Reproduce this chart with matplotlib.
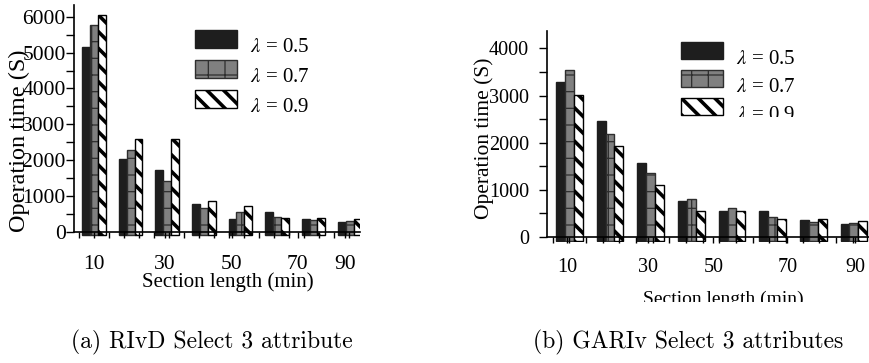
import matplotlib
matplotlib.use('Agg')
import matplotlib.pyplot as plt
from matplotlib.patches import Patch, Rectangle
from matplotlib.legend_handler import HandlerPatch
from matplotlib.ticker import MultipleLocator, FixedLocator
from matplotlib.transforms import Bbox, TransformedBbox
import numpy as np

# section lengths (min) of the 8 bar groups, and the x tick labels shown
sections = [10, 20, 30, 40, 50, 60, 70, 80]
tick_labels = ['10', '30', '50', '70', '90']
lambda_labels = [r'$\lambda$ = 0.5', r'$\lambda$ = 0.7', r'$\lambda$ = 0.9']

# (a) RIvD, operation time (s)
rivd_05 = [5150, 2020, 1720, 770, 350, 560, 350, 280]
rivd_07 = [5770, 2290, 1420, 650, 560, 420, 330, 310]
rivd_09 = [6060, 2580, 2580, 860, 720, 370, 370, 360]

# (b) GARIv, operation time (s)
gariv_05 = [3290, 2460, 1560, 750, 550, 550, 350, 270]
gariv_07 = [3550, 2190, 1360, 810, 620, 420, 310, 300]
gariv_09 = [3010, 1920, 1100, 550, 550, 370, 380, 330]

plt.rcParams['font.family'] = ['Liberation Serif', 'DejaVu Serif']
plt.rcParams['mathtext.fontset'] = 'stix'

W, H = 869, 363
fig = plt.figure(figsize=(W / 100, H / 100), dpi=100)

# bar styles: solid black, gray grid, white with black stripes
styles = [
    dict(facecolor='#1e1e1e', edgecolor='#1e1e1e', hatch=None, hlw=1.0),
    dict(facecolor='#808080', edgecolor='#2e2e2e', hatch='+', hlw=0.9),
    dict(facecolor='white', edgecolor='black', hatch='\\\\', hlw=2.6),
]


def px_axes(x0, x1, ytop, ybot):
    # axes rectangle given in pixels measured from the top-left corner
    return fig.add_axes([x0 / W, 1 - ybot / H, (x1 - x0) / W, (ybot - ytop) / H])


def styled_bar(ax, x, vals, base, width, st):
    with plt.rc_context({'hatch.linewidth': st['hlw']}):
        bars = ax.bar(x, np.array(vals) - base, width, bottom=base,
                      facecolor=st['facecolor'], edgecolor=st['edgecolor'],
                      hatch=st['hatch'], linewidth=1.0)
    for b in bars:
        if hasattr(b, 'set_hatch_linewidth'):
            b.set_hatch_linewidth(st['hlw'])
    return bars


def draw_panel(ax, series, ylim, base, xlim, label_pos, width, tick_fs, ylab_fs, xpad):
    x = np.arange(len(sections))
    for k, (vals, st) in enumerate(zip(series, styles)):
        styled_bar(ax, x + (k - 1) * width, vals, base, width, st)

    ax.set_xlim(*xlim)
    ax.set_ylim(*ylim)
    ax.spines['top'].set_visible(False)
    ax.spines['right'].set_visible(False)
    ax.spines['bottom'].set_position(('data', 0))
    ax.spines['left'].set_bounds(0, ylim[1])
    for s in ('left', 'bottom'):
        ax.spines[s].set_linewidth(1.2)

    ax.yaxis.set_major_locator(MultipleLocator(1000))
    ax.yaxis.set_minor_locator(MultipleLocator(500))
    ax.xaxis.set_major_locator(FixedLocator(label_pos))
    ax.set_xticklabels(tick_labels)
    ax.xaxis.set_minor_locator(MultipleLocator(0.41))
    ax.tick_params(axis='both', which='both', direction='out', width=1.0)
    ax.tick_params(axis='y', which='both', length=6, labelsize=tick_fs)
    ax.tick_params(axis='x', which='both', length=4, labelsize=tick_fs, pad=xpad)
    ax.set_ylabel('Operation time (S)', fontsize=ylab_fs, va='center')
    ax.set_xlabel('Section length (min)', fontsize=tick_fs - 0.5, va='center')


# ---------------- (a) RIvD ----------------
ax1 = px_axes(74, 360, 5, 237)
draw_panel(ax1, [rivd_05, rivd_07, rivd_09], (-150, 6330), -90,
           (-0.55, 7.27), [0, 1.94, 3.77, 5.57, 6.85], 0.215, 15.5, 17.5, 13)
ax1.tick_params(axis='y', pad=0)
ax1.yaxis.set_label_coords(19 / W, 1 - 141 / H, transform=fig.transFigure)
ax1.xaxis.set_label_coords(228 / W, 1 - 282 / H, transform=fig.transFigure)

# ---------------- (b) GARIv ----------------
ax2 = px_axes(547, 869, 31, 242.4)
draw_panel(ax2, [gariv_05, gariv_07, gariv_09], (-120, 4370), -90,
           (-0.55, 7.37), [-0.05, 1.94, 3.54, 5.36, 7.03], 0.22, 14.5, 15.5, 11)
ax2.tick_params(axis='y', pad=7)
ax2.yaxis.set_label_coords(484 / W, 1 - 138 / H, transform=fig.transFigure)
ax2.xaxis.set_label_coords(723 / W, 1 - 299 / H, transform=fig.transFigure)
# the lower edge of the right panel is cut off in the original
crop = TransformedBbox(Bbox([[0, 1 - 302 / H], [1, 1]]), fig.transFigure)
ax2.xaxis.label.set_clip_box(crop)
ax2.xaxis.label.set_clip_on(True)


def raised_patch(legend, orig_handle, xdescent, ydescent, width, height, fontsize):
    # legend swatches sit a little higher than their labels in the original
    return Rectangle((-xdescent, -ydescent + 4.5), width, height)


def make_legend(ax, anchor_px, fs, hh, spacing):
    handles = []
    for st in styles:
        with plt.rc_context({'hatch.linewidth': st['hlw']}):
            p = Patch(facecolor=st['facecolor'], edgecolor=st['edgecolor'],
                      hatch=st['hatch'], linewidth=1.0)
        handles.append(p)
    leg = ax.legend(handles, lambda_labels, loc='upper left', frameon=False,
                    bbox_to_anchor=(anchor_px[0] / W, 1 - anchor_px[1] / H),
                    bbox_transform=fig.transFigure, fontsize=fs, borderpad=0,
                    borderaxespad=0, handlelength=42 / (fs * 100 / 72),
                    handleheight=hh, labelspacing=spacing, handletextpad=0.6,
                    handler_map={Patch: HandlerPatch(patch_func=raised_patch)})
    for p, st in zip(leg.get_patches(), styles):
        if hasattr(p, 'set_hatch_linewidth'):
            p.set_hatch_linewidth(st['hlw'])
    return leg


make_legend(ax1, (195, 36), 15, 0.95, 0.42)
leg2 = make_legend(ax2, (681, 48), 15, 0.88, 0.36)
# third legend entry of (b) is cut off in the original
leg2.get_texts()[2].set_clip_box(TransformedBbox(Bbox([[0, 1 - 117 / H], [1, 1]]), fig.transFigure))
leg2.get_texts()[2].set_clip_on(True)

# sub-captions
fig.text(212 / W, 1 - 342 / H, '(a) RIvD Select 3 attribute', family='cmr10',
         fontsize=17, ha='center', va='center')
fig.text(688 / W, 1 - 342 / H, '(b) GARIv Select 3 attributes', family='cmr10',
         fontsize=17, ha='center', va='center')

fig.savefig('out.png', dpi=100)
